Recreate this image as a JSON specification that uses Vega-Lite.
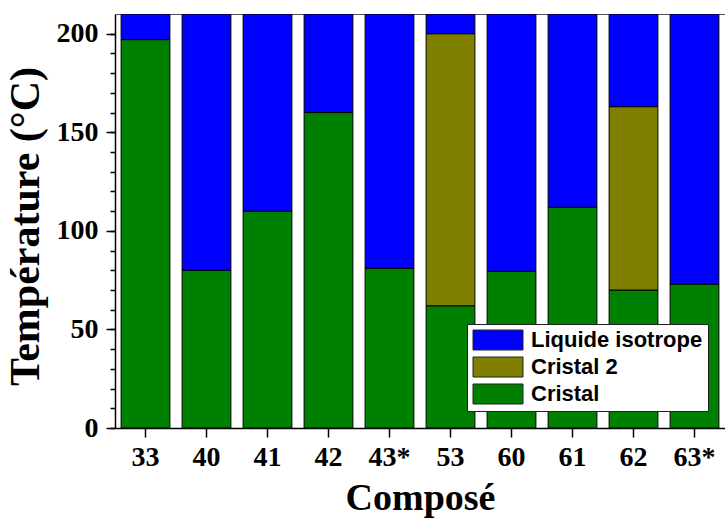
{
  "$schema": "https://vega.github.io/schema/vega-lite/v6.json",
  "width": 610,
  "height": 414,
  "padding": {"left": 4, "top": 14, "right": 0, "bottom": 5},
  "background": "white",
  "config": {
    "view": {"stroke": "#555", "strokeWidth": 1},
    "axis": {"labelFont": "Liberation Serif", "titleFont": "Liberation Serif", "labelFontWeight": "bold", "titleFontWeight": "bold", "labelColor": "black", "titleColor": "black", "domainColor": "black", "tickColor": "black", "domainWidth": 1.5, "tickWidth": 1.5, "grid": false}
  },
  "data": {
    "values": [
      {"compose": "33", "phase": "Cristal", "start": 0, "end": 197},
      {"compose": "33", "phase": "Liquide isotrope", "start": 197, "end": 210},
      {"compose": "40", "phase": "Cristal", "start": 0, "end": 80},
      {"compose": "40", "phase": "Liquide isotrope", "start": 80, "end": 210},
      {"compose": "41", "phase": "Cristal", "start": 0, "end": 110},
      {"compose": "41", "phase": "Liquide isotrope", "start": 110, "end": 210},
      {"compose": "42", "phase": "Cristal", "start": 0, "end": 160},
      {"compose": "42", "phase": "Liquide isotrope", "start": 160, "end": 210},
      {"compose": "43*", "phase": "Cristal", "start": 0, "end": 81},
      {"compose": "43*", "phase": "Liquide isotrope", "start": 81, "end": 210},
      {"compose": "53", "phase": "Cristal", "start": 0, "end": 62},
      {"compose": "53", "phase": "Cristal 2", "start": 62, "end": 200},
      {"compose": "53", "phase": "Liquide isotrope", "start": 200, "end": 210},
      {"compose": "60", "phase": "Cristal", "start": 0, "end": 79.5},
      {"compose": "60", "phase": "Liquide isotrope", "start": 79.5, "end": 210},
      {"compose": "61", "phase": "Cristal", "start": 0, "end": 112},
      {"compose": "61", "phase": "Liquide isotrope", "start": 112, "end": 210},
      {"compose": "62", "phase": "Cristal", "start": 0, "end": 70},
      {"compose": "62", "phase": "Cristal 2", "start": 70, "end": 163},
      {"compose": "62", "phase": "Liquide isotrope", "start": 163, "end": 210},
      {"compose": "63*", "phase": "Cristal", "start": 0, "end": 73},
      {"compose": "63*", "phase": "Liquide isotrope", "start": 73, "end": 210}
    ]
  },
  "layer": [
    {
      "mark": {"type": "bar", "stroke": "black", "strokeWidth": 1, "clip": true},
      "encoding": {
        "x": {
          "field": "compose", "type": "nominal",
          "sort": ["33", "40", "41", "42", "43*", "53", "60", "61", "62", "63*"],
          "scale": {"paddingInner": 0.2, "paddingOuter": 0.1},
          "axis": {"title": "Composé", "labelAngle": 0, "labelFontSize": 28, "titleFontSize": 38, "tickSize": 9, "labelPadding": 6, "titlePadding": 8}
        },
        "y": {
          "field": "start", "type": "quantitative",
          "scale": {"domain": [0, 210], "nice": false, "zero": true},
          "axis": {"title": "Température (°C)", "values": [0, 50, 100, 150, 200], "labelFontSize": 28, "titleFontSize": 42, "tickSize": 9, "labelPadding": 8, "titlePadding": 9, "titleY": 212}
        },
        "y2": {"field": "end"},
        "color": {
          "field": "phase", "type": "nominal",
          "scale": {"domain": ["Liquide isotrope", "Cristal 2", "Cristal"], "range": ["#0000FF", "#808000", "#008000"]},
          "legend": {
            "title": null, "orient": "none", "legendX": 352, "legendY": 310,
            "fillColor": "white", "strokeColor": "#222", "padding": 5,
            "symbolType": "M-1,-1H4V1H-1Z", "symbolSize": 400, "symbolStrokeColor": "#222", "symbolStrokeWidth": 1, "symbolOpacity": 1,
            "labelFont": "Liberation Sans", "labelFontWeight": "bold", "labelFontSize": 22, "labelColor": "black", "labelOffset": 37, "rowPadding": 3, "labelLimit": 300
          }
        }
      }
    },
    {
      "mark": {"type": "point", "opacity": 0},
      "encoding": {
        "y": {
          "field": "start", "type": "quantitative",
          "axis": {"orient": "left", "values": [0, 10, 20, 30, 40, 50, 60, 70, 80, 90, 100, 110, 120, 130, 140, 150, 160, 170, 180, 190, 200], "labels": false, "tickSize": 5, "domain": false, "title": null}
        }
      }
    }
  ],
  "resolve": {"axis": {"y": "independent"}}
}
